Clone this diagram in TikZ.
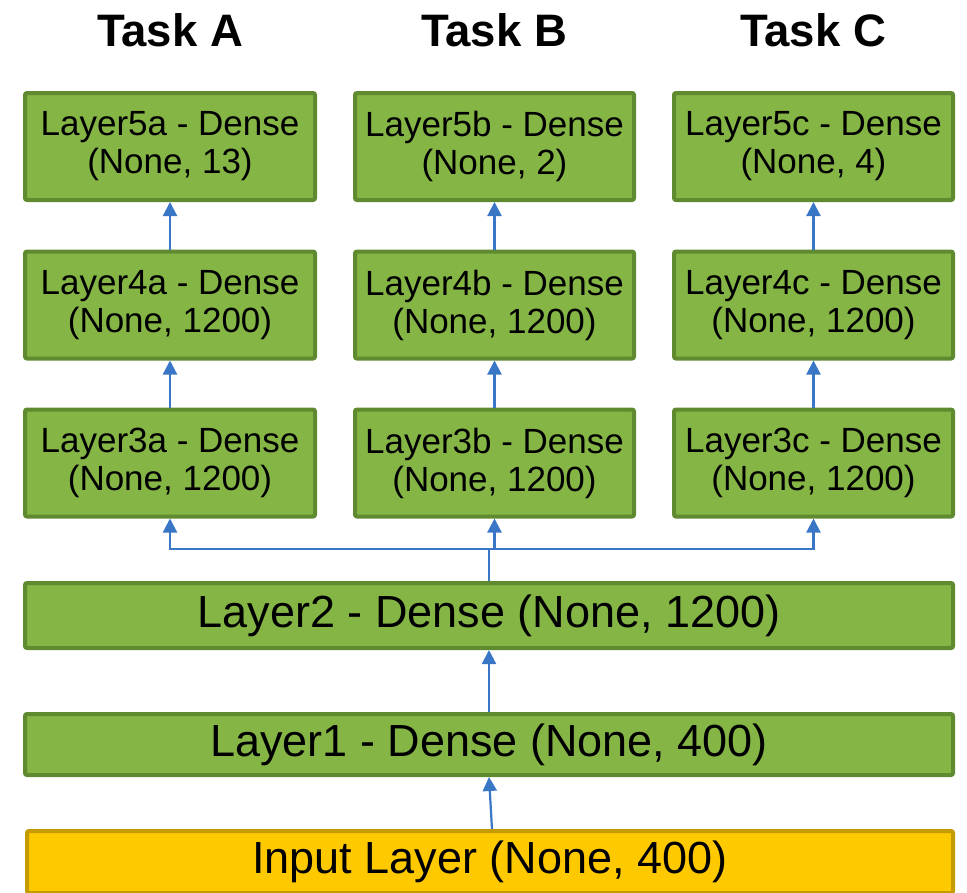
\documentclass[tikz,border=0pt]{standalone}
\usepackage{fontspec}
\setmainfont{Liberation Sans}
\usetikzlibrary{arrows.meta}
\definecolor{gfill}{HTML}{84B545}
\definecolor{gdraw}{HTML}{5F8A30}
\definecolor{yfill}{HTML}{FFC900}
\definecolor{ydraw}{HTML}{C49B00}
\definecolor{ablue}{HTML}{3A76C6}
\begin{document}
\begin{tikzpicture}[x=1pt,y=-1pt,
  gbox/.style={draw=gdraw,fill=gfill,line width=4pt,rounded corners=2pt,inner sep=0pt,align=center,
    font=\fontsize{35}{38}\selectfont},
  wbox/.style={gbox,font=\fontsize{45}{50}\selectfont},
  ybox/.style={wbox,draw=ydraw,fill=yfill},
  title/.style={font=\fontsize{45.5}{50}\selectfont\bfseries,inner sep=0pt},
  conn/.style={draw=ablue,line width=2.2pt,-{Triangle[width=14pt,length=14pt]}},
  line/.style={draw=ablue,line width=2.2pt}]
\useasboundingbox (0,0) rectangle (967,892);
% titles
\node[title] (ta) at (170,30) {Task A};
\node[title] (tb) at (494,30) {Task B};
\node[title] (tc) at (813,30) {Task C};
% column boxes
\tikzset{colA/.style={gbox,minimum width=290pt,minimum height=107pt},
         colB/.style={gbox,minimum width=279pt,minimum height=107pt},
         colC/.style={gbox,minimum width=279pt,minimum height=107pt}}
\node[colA] (l5a) at (170,146.5) {Layer5a - Dense\\(None, 13)};
\node[colB] (l5b) at (494.5,146.5) {Layer5b - Dense\\(None, 2)};
\node[colC] (l5c) at (813.5,146.5) {Layer5c - Dense\\(None, 4)};
\node[colA] (l4a) at (170,305) {Layer4a - Dense\\(None, 1200)};
\node[colB] (l4b) at (494.5,305) {Layer4b - Dense\\(None, 1200)};
\node[colC] (l4c) at (813.5,305) {Layer4c - Dense\\(None, 1200)};
\node[colA] (l3a) at (170,463) {Layer3a - Dense\\(None, 1200)};
\node[colB] (l3b) at (494.5,463) {Layer3b - Dense\\(None, 1200)};
\node[colC] (l3c) at (813.5,463) {Layer3c - Dense\\(None, 1200)};
% wide boxes
\node[wbox,minimum width=928pt,minimum height=65pt] (l2) at (489,615.5) {Layer2 - Dense (None, 1200)};
\node[wbox,minimum width=928pt,minimum height=61pt] (l1) at (489,744.5) {Layer1 - Dense (None, 400)};
\node[ybox,minimum width=926pt,minimum height=62pt] (in) at (490,862) {Input Layer (None, 400)};
% connectors
\draw[conn] (l3a) -- (l4a);
\draw[conn] (l4a) -- (l5a);
\draw[conn] (l3b) -- (l4b);
\draw[conn] (l4b) -- (l5b);
\draw[conn] (l3c) -- (l4c);
\draw[conn] (l4c) -- (l5c);
\coordinate (j) at (489,549);
\coordinate (jb) at (494.5,549);
\draw[line] (l2.north) -- (j);
\draw[conn] (j) -| (l3a.south);
\draw[conn] (j) -| (l3c.south);
\draw[conn] (jb) -- (l3b.south);
\draw[conn] (l1) -- (l2);
\draw[conn] ([xshift=2pt]in.north) -- (l1.south);
\end{tikzpicture}
\end{document}
